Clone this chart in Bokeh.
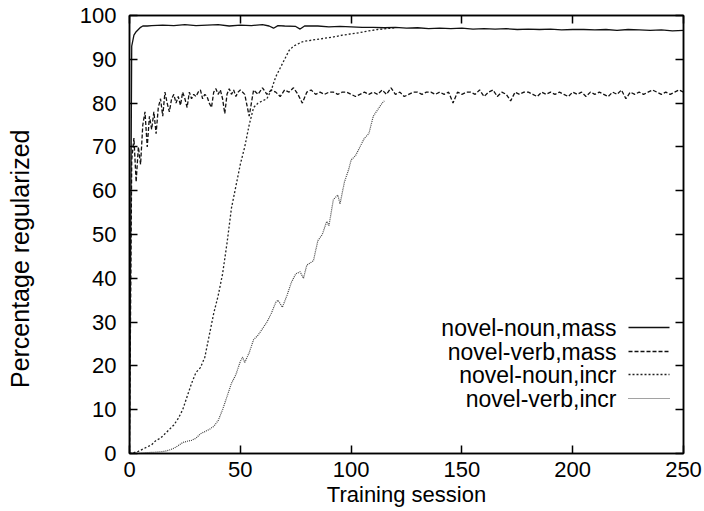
from bokeh.plotting import figure
from bokeh.models import Range1d, LinearAxis, FixedTicker
from bokeh.core.properties import value
from bokeh.embed import file_html
from bokeh.resources import INLINE

# ---------------- data ----------------
noun_mass_x = [0, 1, 2, 3, 4, 5, 6, 8, 10, 15, 20, 25, 30, 35, 40, 45, 50, 55, 60, 63, 65, 67, 70, 75, 77, 79,
               85, 90, 95, 100, 105, 110, 115, 120, 125, 130, 135, 140, 145, 150, 155, 160, 165, 170, 175,
               180, 185, 190, 195, 200, 205, 210, 215, 220, 225, 230, 235, 240, 245, 250]
noun_mass_y = [0, 93, 95.5, 96.3, 96.8, 97.3, 97.6, 97.6, 97.7, 97.8, 97.7, 97.9, 97.7, 97.8, 97.9, 97.6, 97.8,
               97.7, 97.9, 97.6, 97.1, 97.7, 97.6, 97.5, 96.9, 97.6,
               97.6, 97.4, 97.5, 97.4, 97.3, 97.3, 97.2, 97.3, 97.1, 97.2, 97.0, 97.1, 97.0, 97.1, 96.9, 97.0,
               96.9, 97.0, 96.8, 96.9, 96.8, 96.9, 96.7, 96.8, 96.8, 96.7, 96.8, 96.6, 96.8, 96.7, 96.6, 96.7,
               96.5, 96.6]

verb_mass_x = list(range(0, 51)) + list(range(52, 251, 2))
verb_mass_y = [0, 67, 72, 62, 70, 66, 75, 78, 70, 77, 74, 78, 73, 79, 81, 77, 82.5, 80, 78, 81, 82,
               80, 81.5, 79.5, 82.5, 81, 79, 82.5, 81, 82, 81.5, 82.5, 83, 81, 82, 81.5, 80, 79, 82.5, 83.3,
               82, 83, 81, 77.6, 82, 83.3, 82, 83, 81.5, 82.5, 83,
               82, 77, 83, 82, 83.5, 82, 83, 82.5, 81.5, 83, 82.5, 83.5, 82, 80, 82.5, 83, 82, 82.5, 82,
               82.5, 82.5, 82, 82.5, 82.5, 82, 81.5, 82, 82.5, 82, 82.5, 82, 83, 82, 83.5, 82, 82.5, 81.5,
               82, 82.5, 82.5, 82, 82.5, 82.5, 82, 82.5, 82, 82.5, 80, 82.5, 82, 82.5, 82.5, 82, 83, 81.5,
               82.5, 83, 81.5, 82.5, 82, 80.5, 82.5, 82, 82.5, 82.5, 82, 81.5, 82.5, 82, 82.5, 82, 82.5, 82,
               81.5, 82.5, 82, 82.5, 81.5, 82.5, 82, 82.5, 82, 81.5, 82.5, 82, 83, 81, 82.5, 82, 82.5, 82,
               82.5, 83, 82.5, 82, 82.5, 82, 82.5, 83, 82.5]

noun_incr_x = [0, 2, 4, 6, 8, 10, 12, 14, 16, 18, 20, 22, 24, 26, 28, 30, 32, 34, 36, 38, 40, 42, 44, 46,
               48, 50, 52, 54, 56, 58, 60, 62, 64, 66, 68, 70, 72, 74, 76, 78, 80, 84, 88, 92, 96, 100,
               104, 108, 112, 116, 120]
noun_incr_y = [0, 0.2, 0.5, 1, 1.5, 2, 3, 3.5, 4.5, 5.5, 6.5, 8, 10, 13, 16, 18.5, 19.6, 22, 27, 32, 36,
               41, 48, 56, 61, 66, 70, 75, 79, 80, 80.5, 81, 83, 86, 88, 90, 92, 93, 93.5, 94, 94.2, 94.5,
               94.8, 95.1, 95.5, 95.8, 96.1, 96.5, 96.8, 97.0, 97.2]

verb_incr_x = [0, 4, 8, 12, 16, 18, 20, 22, 24, 26, 28, 30, 32, 34, 36, 38, 40, 42, 44, 46, 48, 50, 51,
               52, 54, 56, 58, 60, 62, 64, 66, 67, 69, 71, 73, 75, 77, 78.5, 80, 83, 85, 87, 89, 90, 92,
               94, 95, 97, 99, 100, 102, 104, 106, 108, 110, 112, 114, 115]
verb_incr_y = [0, 0, 0.2, 0.3, 0.5, 0.8, 1.2, 1.8, 2.5, 2.8, 3.0, 3.5, 4.5, 5, 5.5, 6.2, 7.5, 10, 13, 16,
               18, 21, 22, 20.8, 23, 26, 27, 28.5, 30, 32, 34.5, 35, 33.4, 36, 39, 41, 41.5, 40, 43, 44,
               48.6, 50, 53, 52, 58, 59, 57, 62, 65, 67, 68, 70, 72, 73, 77, 78.5, 80, 80.5]

series_labels = ["novel-noun,mass", "novel-verb,mass", "novel-noun,incr", "novel-verb,incr"]
x_ticks = [0, 50, 100, 150, 200, 250]
y_ticks = [0, 10, 20, 30, 40, 50, 60, 70, 80, 90, 100]
x_label = "Training session"
y_label = "Percentage regularized"

# ---------------- figure ----------------
FONT = "Liberation Sans"
X0, X1, Y0, Y1 = 0, 250, 0, 100
p = figure(width=704, height=511, x_range=Range1d(X0, X1), y_range=Range1d(Y0, Y1),
           output_backend="svg", toolbar_location=None,
           min_border_left=129, min_border_right=21, min_border_top=15, min_border_bottom=58)
p.background_fill_color = "white"
p.border_fill_color = "white"
p.outline_line_color = "black"
p.outline_line_width = 1.5
p.xgrid.visible = False
p.ygrid.visible = False

for ax in (p.xaxis[0], p.yaxis[0]):
    ax.major_tick_in = 8
    ax.major_tick_out = 0
    ax.minor_tick_in = 0
    ax.minor_tick_out = 0
    ax.axis_line_color = "black"
    ax.axis_line_width = 1.5
    ax.major_tick_line_width = 1.5
    ax.major_label_text_font = FONT
    ax.major_label_text_font_size = "22px"
    ax.major_label_text_color = "black"
    ax.axis_label_text_font = FONT
    ax.axis_label_text_font_size = "22px"
    ax.axis_label_text_font_style = "normal"
    ax.axis_label_text_color = "black"

p.xaxis[0].ticker = FixedTicker(ticks=x_ticks)
p.yaxis[0].ticker = FixedTicker(ticks=y_ticks)
p.xaxis[0].axis_label = x_label
# trailing no-break spaces push the visible label a little below the frame centre, as in the reference
p.yaxis[0].axis_label = y_label + "\u00a0" * 7
p.yaxis[0].axis_label_text_font_size = "25px"
p.xaxis[0].major_label_standoff = 8
p.yaxis[0].major_label_standoff = 13
p.xaxis[0].axis_label_standoff = 2
p.yaxis[0].axis_label_standoff = 43

# mirrored inward ticks on top and right edges (unlabelled axes)
top = LinearAxis(ticker=FixedTicker(ticks=x_ticks))
right = LinearAxis(ticker=FixedTicker(ticks=y_ticks))
for ax in (top, right):
    ax.major_tick_in = 8
    ax.major_tick_out = 0
    ax.minor_tick_in = 0
    ax.minor_tick_out = 0
    ax.major_tick_line_width = 1.5
    ax.axis_line_width = 1.5
    ax.major_label_text_font_size = "0px"
    ax.major_label_standoff = 0
p.add_layout(top, "above")
p.add_layout(right, "right")

styles = [
    dict(line_dash="solid", line_width=1.3, line_color="#111111"),
    dict(line_dash="4 2", line_width=1.3, line_color="#111111"),
    dict(line_dash="2 2", line_width=1.3, line_color="#222222"),
    dict(line_dash="1 1", line_width=1.2, line_color="#444444"),
]
data = [(noun_mass_x, noun_mass_y), (verb_mass_x, verb_mass_y),
        (noun_incr_x, noun_incr_y), (verb_incr_x, verb_incr_y)]

for i in (3, 2, 1, 0):
    xs, ys = data[i]
    p.line(xs, ys, **styles[i])

# screen-pixel -> data helpers for layout-only placements
xscale = (X1 - X0) / 554.0
yscale = (Y1 - Y0) / 438.0
def dx(px):
    return X0 + (px - 129) * xscale
def dy(py):
    return Y0 + (453 - py) * yscale

# manual legend: label text, then sample line to its right
rows = [327, 351, 374, 398]
for i, lab in enumerate(series_labels):
    yy = dy(rows[i])
    p.text(x=[dx(616)], y=[yy], text=[lab], text_align="right", text_baseline="middle",
           text_font=value(FONT), text_font_size="23px", text_color="black")
    p.line([dx(628), dx(669)], [yy, yy], **styles[i])

open("out.html", "w").write(file_html(p, INLINE))
